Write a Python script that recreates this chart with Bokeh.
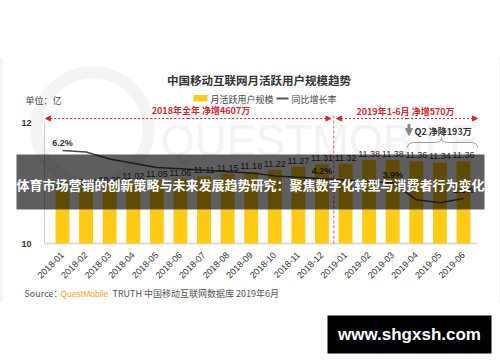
import math
from bokeh.plotting import figure
from bokeh.models import (ColumnDataSource, Range1d, FixedTicker, Label,
                          BoxAnnotation, Arrow, NormalHead)
from bokeh.core.properties import value
from bokeh.embed import file_html
from bokeh.resources import INLINE

# ---------------- data ----------------
months = ["2018-01", "2018-02", "2018-03", "2018-04", "2018-05", "2018-06",
          "2018-07", "2018-08", "2018-09", "2018-10", "2018-11", "2018-12",
          "2019-01", "2019-02", "2019-03", "2019-04", "2019-05", "2019-06"]
mau = [10.87, 10.91, 10.95, 11.02, 11.05, 11.06, 11.11, 11.15, 11.18,
       11.22, 11.27, 11.31, 11.32, 11.38, 11.38, 11.36, 11.34, 11.36]
yoy = [6.2, 6.1, 5.6, 5.3, 5.0, 4.9, 4.8, 4.7, 4.6,
       4.4, 4.3, 4.2, 4.1, 4.0, 3.9, 2.7, 2.5, 2.8]
yoy_label_idx = [0, 11, 14, 17]
y_ticks = [10, 12]

title_txt = "中国移动互联网月活跃用户规模趋势"
unit_txt = "单位：亿"
legend_bar = "月活跃用户规模"
legend_line = "同比增长率"
note_2018 = "2018年全年  净增4607万"
note_2019 = "2019年1-6月  净增570万"
note_q2 = "Q2 净降193万"
banner_txt = "体育市场营销的创新策略与未来发展趋势研究：聚焦数字化转型与消费者行为变化"
site_txt = "www.shgxsh.com"

CJK = "Noto Sans CJK SC"
LAT = "Liberation Sans"
YELLOW = "#FFCB14"
RED = "#D9272E"

# ---------------- geometry: the frame covers the whole canvas ----------------
W, H = 500, 362
X_PX = 23.588      # px per category step
Y_PX = 60.5        # px per 1 (亿)
G_PX = 14.1        # px per 1 % of growth
X0, X1 = -62 / X_PX, (W - 62) / X_PX
Y0, Y1 = 10 - (H - 243) / Y_PX, 10 + 243 / Y_PX
G0, G1 = 6.2 - (H - 150) / G_PX, 6.2 + 150 / G_PX


def dx(px):
    return X0 + px * (X1 - X0) / W


def dy(py):
    return Y1 - py * (Y1 - Y0) / H


p = figure(width=W, height=H, output_backend="svg", toolbar_location=None,
           x_range=Range1d(X0, X1), y_range=Range1d(Y0, Y1), title=None,
           min_border=0, min_border_left=0, min_border_right=0,
           min_border_top=0, min_border_bottom=0)
p.extra_y_ranges = {"g": Range1d(G0, G1)}
p.outline_line_color = None
p.background_fill_color = "white"
p.border_fill_color = "white"
p.xgrid.visible = False
p.ygrid.visible = False

# axes (drawn inside the frame at fixed locations)
p.xaxis.fixed_location = y_ticks[0]
p.xaxis.ticker = FixedTicker(ticks=list(range(len(months))))
p.xaxis.major_label_overrides = {i: m for i, m in enumerate(months)}
p.xaxis.major_label_orientation = math.pi / 4
p.xaxis.major_label_text_font = LAT
p.xaxis.major_label_text_font_size = "9px"
p.xaxis.major_label_text_color = "#333333"
p.xaxis.major_label_standoff = 4
p.xaxis.axis_line_color = None
p.xaxis.major_tick_line_color = None
p.xaxis.minor_tick_line_color = None

p.yaxis.fixed_location = dx(44)
p.yaxis.ticker = FixedTicker(ticks=y_ticks)
p.yaxis.major_label_text_font = LAT
p.yaxis.major_label_text_font_size = "9px"
p.yaxis.major_label_text_font_style = "bold"
p.yaxis.major_label_text_color = "#333333"
p.yaxis.major_label_standoff = 7
p.yaxis.axis_line_color = None
p.yaxis.major_tick_line_color = None
p.yaxis.minor_tick_line_color = None

# card edges
p.segment(x0=[dx(0.5), dx(499.5)], y0=[dy(57), dy(57)], x1=[dx(0.5), dx(499.5)],
          y1=[dy(302), dy(302)], line_color="#dddddd", line_width=1)

# faint watermark
p.scatter(x=[dx(92)], y=[dy(128)], size=112, marker="circle", fill_color=None,
          line_color="#f4f4f4", line_width=12, level="underlay")
p.text(x=[dx(160)], y=[dy(140)], text=["QUESTMOBILE"], text_font=value(LAT),
       text_font_size="44px", text_color="#f3f3f3", text_baseline="middle",
       text_align="left", level="underlay")

src = ColumnDataSource(dict(i=list(range(len(months))), mau=mau, yoy=yoy,
                            mau_txt=[f"{v:.2f}" for v in mau]))

# axis lines
p.segment(x0=[dx(44)], y0=[y_ticks[0]], x1=[dx(44)], y1=[y_ticks[-1]],
          line_color="#cccccc", line_width=1)
p.segment(x0=[dx(44)], y0=[y_ticks[0]], x1=[dx(477)], y1=[y_ticks[0]],
          line_color="#dddddd", line_width=2)

# bars
p.vbar(x="i", top="mau", bottom=y_ticks[0], width=0.59, fill_color=YELLOW,
       line_color=None, source=src)
p.text(x="i", y="mau", text="mau_txt", text_font=value(LAT), text_font_size="9px",
       text_color="#333333", text_align="center", text_baseline="bottom",
       y_offset=-3, source=src)

# growth line
p.line(x="i", y="yoy", y_range_name="g", line_color="#4a4a4a", line_width=1.5,
       source=src)
lab = ColumnDataSource(dict(i=yoy_label_idx, v=[yoy[k] for k in yoy_label_idx],
                            t=[f"{yoy[k]}%" for k in yoy_label_idx]))
p.text(x="i", y="v", text="t", y_range_name="g", text_font=value(LAT),
       text_font_size="9px", text_font_style="bold", text_color="#333333",
       text_align="center", text_baseline="bottom", y_offset=-3, source=lab)

# split line between 2018 / 2019
split = 11.5
p.segment(x0=[split], y0=[y_ticks[0]], x1=[split], y1=[dy(114)], line_color="#e07a7a",
          line_width=1.2, line_dash="3 2")

# red range arrows
ya = dy(118)
for xs, xe in [(split - 0.12, dx(45)), (split + 0.12, dx(477))]:
    for tip in (xs, xe):
        p.add_layout(Arrow(x_start=(xs + xe) / 2, y_start=ya, x_end=tip, y_end=ya,
                           line_color=RED, line_width=1, line_dash="2 2",
                           end=NormalHead(size=5, fill_color=RED, line_color=RED)))

# legend
p.quad(left=[dx(193)], right=[dx(207)], top=[dy(94.5)], bottom=[dy(101)],
       fill_color=YELLOW, line_color=None)
p.segment(x0=[dx(276)], y0=[dy(98)], x1=[dx(288)], y1=[dy(98)],
          line_color="#555555", line_width=2)

# Q2 arrow and brace
p.add_layout(Arrow(x_start=dx(408.5), y_start=dy(123.5), x_end=dx(408.5), y_end=dy(135),
                   line_color="#888888", line_width=3,
                   end=NormalHead(size=7, fill_color="#888888", line_color="#888888")))
xa, xc, xb = dx(407), dx(441), dx(477)
yl, ym, yt = dy(147), dy(142), dy(137)
k = 0.3
p.quadratic(x0=[xa, xc - k, xc, xb], y0=[yl, ym, yt, yl],
            x1=[xa + k, xc, xc + k, xb - k], y1=[ym, yt, ym, ym],
            cx=[xa, xc, xc, xb], cy=[ym, ym, ym, ym],
            line_color="#999999", line_width=1)
p.segment(x0=[xa + k, xc + k], y0=[ym, ym], x1=[xc - k, xb - k], y1=[ym, ym],
          line_color="#999999", line_width=1)


def label(px, py, text, size="9px", color="#333333", bold=False, align="left",
          font=CJK):
    p.add_layout(Label(x=dx(px), y=dy(py), text=text, text_font=font,
                       text_font_size=size, text_color=color,
                       text_font_style="bold" if bold else "normal",
                       text_align=align, text_baseline="middle"))


label(258.5, 79, title_txt, size="11.5px", bold=True, align="center")
label(25, 100, unit_txt, color="#444444")
label(210, 98.5, legend_bar, color="#444444")
label(291, 98.5, legend_line, color="#444444")
label(201.5, 110, note_2018, color=RED, bold=True, align="center")
label(406, 111, note_2019, color=RED, bold=True, align="center")
label(414, 131, note_q2, bold=True)

# source line
label(24, 293, "Source：", color="#555555")
label(60, 293, "QuestMobile", size="8.5px", color="#F5A623", font=LAT)
label(112, 293, "TRUTH 中国移动互联网数据库 2019年6月", color="#555555")

# overlay banner
p.add_layout(BoxAnnotation(left=dx(16), right=dx(484), top=dy(154), bottom=dy(209),
                           fill_color="black", fill_alpha=0.63, line_color=None))
label(250, 184, banner_txt, size="13px", color="white", bold=True, align="center")

# site box
p.add_layout(BoxAnnotation(left=dx(327), right=dx(491), top=dy(315), bottom=dy(353),
                           fill_color="black", fill_alpha=1.0, line_color=None))
label(409, 334, site_txt, size="17px", color="white", bold=True, align="center",
      font=LAT)

open("out.html", "w").write(file_html(p, INLINE))
